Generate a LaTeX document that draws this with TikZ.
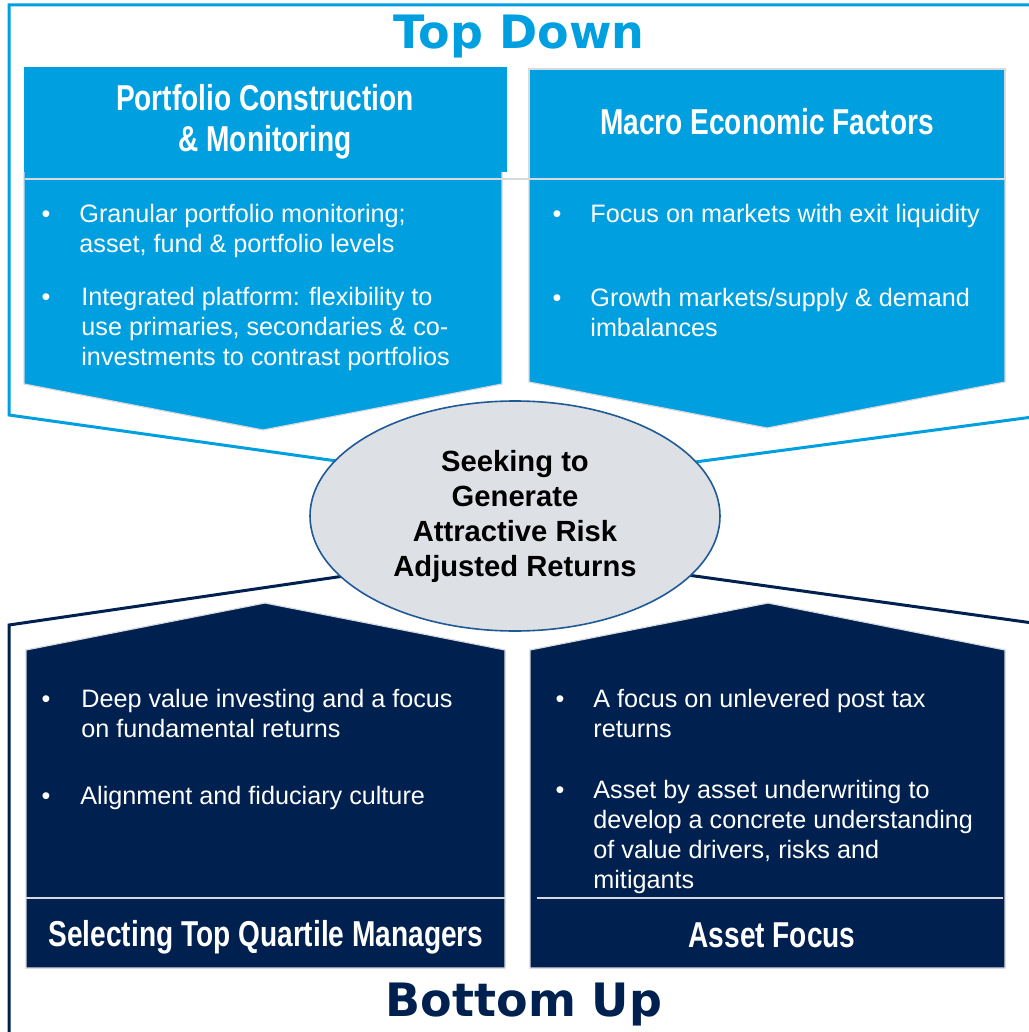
\documentclass[tikz,border=0pt]{standalone}
\usepackage{fontspec}
\setmainfont{Liberation Sans}
\newfontfamily\narrowfont[FakeStretch=0.78]{Liberation Sans}
\newfontfamily\bigfont{DejaVu Sans}
\usepackage{tikz}
\usetikzlibrary{shapes.geometric}
\definecolor{tdblue}{HTML}{009FE0}
\definecolor{bunavy}{HTML}{00214F}
\definecolor{ovalgray}{HTML}{DDE0E5}
\definecolor{ovalline}{HTML}{1F5A96}
\definecolor{sepgray}{HTML}{D6D9DE}

\begin{document}
\begin{tikzpicture}[x=0.5pt, y=-0.5pt,
    rim/.style={line width=1.5pt, line join=miter},
    outl/.style={draw=sepgray, line width=0.6pt},
    sepline/.style={draw=sepgray, line width=1pt},
    head/.style={font=\narrowfont\bfseries\fontsize{18}{20.5}\selectfont,
                 text=white, align=center, inner sep=0pt},
    % base of a multi-line node is its last line
    btext/.style={font=\fontsize{12.6}{15}\selectfont, text=white,
                  align=left, anchor=base west, inner sep=0pt},
    bul/.style={font=\fontsize{12.6}{15}\selectfont, text=white,
                anchor=base, inner sep=0pt},
    bigtitle/.style={font=\bigfont\bfseries\fontsize{23}{26}\selectfont},
    goal/.style={ellipse, draw=ovalline, line width=0.8pt, fill=ovalgray,
                 minimum width=205pt, minimum height=115pt, inner sep=0pt,
                 align=center, font=\bfseries\fontsize{14.6}{17.5}\selectfont}
  ]
  \useasboundingbox (0,0) rectangle (1028,1032);

  % frame lines
  \coordinate (topjoin) at (515,486);
  \coordinate (botjoin) at (515,551);
  \draw[rim, tdblue] (topjoin) -- (9,415) -- (9,5) -- (1040,5);
  \draw[rim, tdblue] (1040,416) -- (topjoin);
  \draw[rim, bunavy] (botjoin) -- (9,625) -- (9,1040);
  \draw[rim, bunavy] (1040,624) -- (botjoin);

  % Top Down
  \node[bigtitle, tdblue] (toptitle) at (519,37) {Top Down};

  % Portfolio construction
  \fill[tdblue] (24,67) rectangle (507,172);
  \fill[tdblue] (24,171) -- (502,171) -- (502,384) -- (263,430)
    -- (24,384) -- cycle;
  \draw[outl] (502,172) -- (502,384) -- (263,430) -- (24,384) -- (24,172);
  \node[head] (pchead) at (265,122) {Portfolio Construction\\\& Monitoring};

  % Macro economic factors
  \path[fill=tdblue, outl] (529,69) rectangle (1005,179);
  \path[fill=tdblue, outl] (529,179) -- (1005,179) -- (1005,382) -- (767,428)
    -- (529,382) -- cycle;
  \node[head] (mehead) at (767,122) {Macro Economic Factors};
  \draw[sepline] (25,179) -- (1005,179);

  \node[bul] (pcb1) at (46,222) {•};
  \node[btext] (pct1) at (79,252) {Granular portfolio monitoring;\\asset, fund \& portfolio levels};
  \node[bul] (pcb2) at (46,305) {•};
  \node[btext] (pct2) at (81,365) {Integrated platform: flexibility to\\use primaries, secondaries \& co-\\investments to contrast portfolios};

  \node[bul] (meb1) at (557,222) {•};
  \node[btext] (met1) at (590,222) {Focus on markets with exit liquidity};
  \node[bul] (meb2) at (557,306) {•};
  \node[btext] (met2) at (590,336) {Growth markets/supply \& demand\\imbalances};

  % Selecting managers
  \path[fill=bunavy, outl] (26,650) -- (265,603) -- (505,650) -- (505,968)
    -- (26,968) -- cycle;
  \draw[sepline] (26,898) -- (505,898);
  \node[head] (smhead) at (266,937) {Selecting Top Quartile Managers};

  \node[bul] (smb1) at (46,707) {•};
  \node[btext] (smt1) at (81,737) {Deep value investing and a focus\\on fundamental returns};
  \node[bul] (smb2) at (46,804) {•};
  \node[btext] (smt2) at (80,804) {Alignment and fiduciary culture};

  % Asset focus
  \path[fill=bunavy, outl] (530,650) -- (768,603) -- (1005,650) -- (1005,968)
    -- (530,968) -- cycle;
  \draw[sepline] (537,898) -- (1003,898);
  \node[head] (afhead) at (772,935) {Asset Focus};

  \node[bul] (afb1) at (560,707) {•};
  \node[btext] (aft1) at (593,737) {A focus on unlevered post tax\\returns};
  \node[bul] (afb2) at (560,798) {•};
  \node[btext] (aft2) at (593,888) {Asset by asset underwriting to\\develop a concrete understanding\\of value drivers, risks and\\mitigants};

  % centre
  \node[goal] (goal) at (515,516) {Seeking to\\Generate\\Attractive Risk\\Adjusted Returns};

  % Bottom Up
  \node[bigtitle, bunavy] (bottitle) at (524,1005) {Bottom Up};
\end{tikzpicture}
\end{document}
